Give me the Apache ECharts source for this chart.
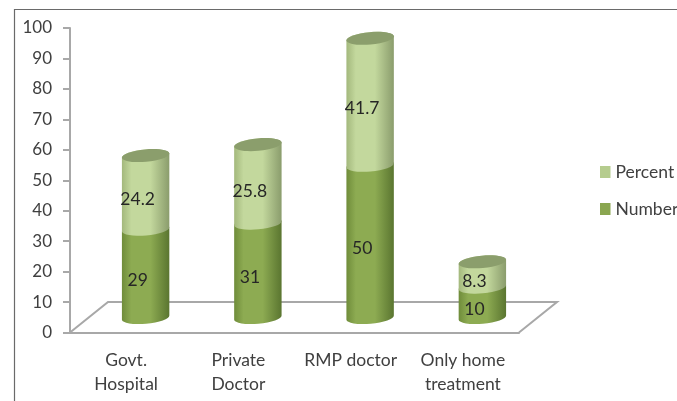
<!DOCTYPE html>
<html>
<head>
<meta charset="utf-8">
<script src="https://cdn.jsdelivr.net/npm/echarts@6/dist/echarts.min.js"></script>
<style>html,body{margin:0;padding:0;background:#fff}#c{width:677px;height:401px}</style>
</head>
<body>
<div id="c"></div>
<script>
const categories = ['Govt.\nHospital', 'Private\nDoctor', 'RMP doctor', 'Only home\ntreatment'];
const numberValues = [29, 31, 50, 10];
const percentValues = [24.2, 25.8, 41.7, 8.3];

const FONT = 'Lato, "Open Sans", sans-serif';
const TEXT = '#404040';
const AXIS = '#a8a8a8';
const FLOOR_LIFT = 4.9;   // bars stand this far up the value axis, on the 3D floor
const BAR_SHIFT = 19.5, RX = 23.8, RY = 6.2, TILT = -5;
const rad = TILT * Math.PI / 180;

function edge(c, side) {
  return [c[0] + side * RX * Math.cos(rad), c[1] + side * RX * Math.sin(rad)];
}
function sideGradient(edgeL, midColor, edgeR) {
  return new echarts.graphic.LinearGradient(0, 0, 1, 0, [
    { offset: 0, color: edgeL },
    { offset: 0.2, color: midColor },
    { offset: 0.6, color: midColor },
    { offset: 1, color: edgeR }
  ]);
}
function cylinder(spec) {
  return function (params, api) {
    const i = api.value(0), from = api.value(1), to = api.value(2);
    const x = api.coord([i, 0])[0] + BAR_SHIFT;
    const b = [x, api.coord([i, from + FLOOR_LIFT])[1]];
    const t = [x, api.coord([i, to + FLOOR_LIFT])[1]];
    const bl = edge(b, -1), br = edge(b, 1), tl = edge(t, -1), tr = edge(t, 1);
    const d = `M${tl[0]} ${tl[1]} L${bl[0]} ${bl[1]} A${RX} ${RY} ${TILT} 0 0 ${br[0]} ${br[1]} ` +
              `L${tr[0]} ${tr[1]} A${RX} ${RY} ${TILT} 0 0 ${tl[0]} ${tl[1]} Z`;
    const children = [{
      type: 'path',
      shape: { pathData: d },
      style: { fill: sideGradient(spec.edgeL, spec.mid, spec.edgeR) }
    }];
    if (spec.cap) {
      children.push({
        type: 'ellipse',
        x: t[0], y: t[1], rotation: -rad,
        shape: { cx: 0, cy: 0, rx: RX, ry: RY },
        style: { fill: spec.cap }
      });
    }
    children.push({
      type: 'text',
      z2: 100,
      style: {
        text: String(api.value(3)),
        x: x - 8, y: (b[1] + t[1]) / 2 + 7,
        align: 'center', verticalAlign: 'middle',
        font: '17.5px ' + FONT, fill: '#262626'
      }
    });
    return { type: 'group', children };
  };
}
function floor(params, api) {
  const band = api.size([1, 0])[0];
  const x0 = api.coord([0, 0])[0] - band / 2, x1 = x0 + band * 4;
  const y0 = api.coord([0, 0])[1], y1 = api.coord([0, 10])[1];
  const dx = 38;
  return {
    type: 'polyline',
    shape: { points: [[x0, y0], [x0 + dx, y1], [x1 + dx, y1], [x1, y0]] },
    style: { fill: 'none', stroke: AXIS, lineWidth: 2 }
  };
}

const numberData = categories.map((c, i) => [i, 0, numberValues[i], numberValues[i]]);
const percentData = categories.map((c, i) => [i, numberValues[i], numberValues[i] + percentValues[i], percentValues[i]]);

const chart = echarts.init(document.getElementById('c'), null, { renderer: 'canvas' });
chart.setOption({
  animation: false,
  backgroundColor: '#fff',
  grid: { left: 70, right: 158, top: 28, bottom: 68.5, containLabel: false },
  legend: {
    orient: 'vertical', left: 600, top: 163, padding: 0,
    data: ['Percent', 'Number'],
    icon: 'rect', itemWidth: 10.5, itemHeight: 12, itemGap: 19,
    selectedMode: false,
    textStyle: { fontFamily: FONT, fontSize: 17.5, color: TEXT, lineHeight: 18 }
  },
  xAxis: {
    type: 'category', data: categories,
    axisLine: { lineStyle: { color: AXIS, width: 2 } },
    axisTick: { alignWithLabel: false, length: 6, lineStyle: { color: AXIS, width: 2 } },
    axisLabel: { fontFamily: FONT, fontSize: 17.5, color: TEXT, margin: 16, lineHeight: 24, interval: 0 }
  },
  yAxis: {
    type: 'value', min: 0, max: 100, interval: 10,
    splitLine: { show: false },
    axisLine: { show: true, lineStyle: { color: AXIS, width: 2 } },
    axisTick: { show: true, length: 7, lineStyle: { color: AXIS, width: 2 } },
    axisLabel: { fontFamily: FONT, fontSize: 17, color: TEXT, margin: 18 }
  },
  series: [
    { type: 'custom', name: 'Floor', data: [[0, 0]], renderItem: floor, silent: true, z: 1 },
    {
      type: 'custom', name: 'Number', data: numberData, z: 2,
      itemStyle: { color: '#8aa650' },
      encode: { x: 0, y: 2 },
      renderItem: cylinder({ edgeL: '#6f8c3a', mid: '#8dab52', edgeR: '#5a7530' })
    },
    {
      type: 'custom', name: 'Percent', data: percentData, z: 3,
      itemStyle: { color: '#b5cc8e' },
      encode: { x: 0, y: 2 },
      renderItem: cylinder({ edgeL: '#a3b87c', mid: '#c3d89d', edgeR: '#8a9c6c', cap: '#8b9e6c' })
    }
  ],
  graphic: [{
    type: 'polyline', silent: true, z: 0,
    shape: { points: [[14.5, 401], [14.5, 9.5], [677, 9.5]] },
    style: { fill: 'none', stroke: '#6a6a6a', lineWidth: 1.2 }
  }]
});
</script>
</body>
</html>
